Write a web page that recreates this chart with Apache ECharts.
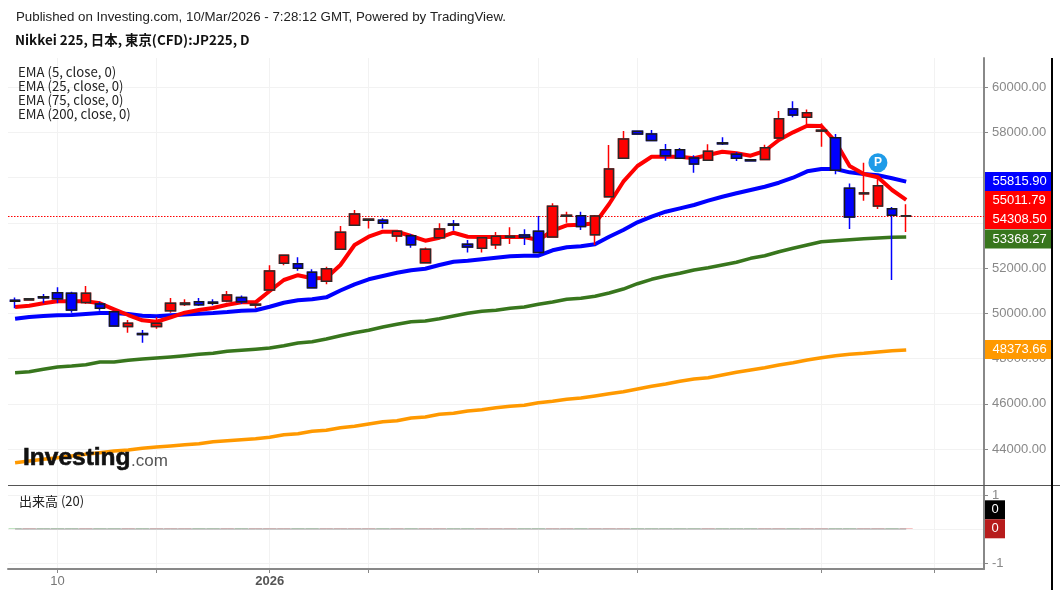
<!DOCTYPE html>
<html>
<head>
<meta charset="utf-8">
<title>Nikkei 225</title>
<script src="https://cdn.jsdelivr.net/npm/echarts@6/dist/echarts.min.js"></script>
<style>
html, body { margin: 0; padding: 0; background: #fff; }
#chart { width: 1060px; height: 596px; }
</style>
</head>
<body>
<div id="chart"></div>
<script>
// daily candles
const opens = [50570,50590,50730,50910,50880,50480,50410,50070,49420,49100,
  49420,50110,50390,50510,50490,50540,50700,50360,51030,52210,
  52190,51810,51410,52830,53890,54110,54110,53410,53430,52230,
  53340,53940,53050,52870,53030,53360,53460,53620,53370,54290,
  54310,53470,55150,56850,58040,57920,57230,57230,56860,56760,
  57530,57030,56780,56800,57750,59030,58660,58050,57760,55520,
  55280,54740,54620,54290];
const closes = [50530,50640,50680,50640,50140,50880,50220,49440,49560,49060,
  49560,50440,50450,50380,50440,50810,50510,50400,51870,52560,
  51990,51130,51970,53580,54390,54160,53980,53620,53030,52830,
  53720,53890,52930,53340,53400,53410,53360,52680,54730,54330,
  53830,54300,56380,57700,57920,57640,56960,56850,56600,57160,
  57490,56850,56740,57320,58600,58760,58860,58090,56320,54250,
  55320,55640,54330,54308.5];
const lows = [50220,50590,50440,50440,50020,50410,50110,49400,49140,48700,
  49320,50020,50320,50320,50350,50490,50410,50230,50950,52120,
  51880,51090,51280,52830,53860,53750,53750,53160,52900,52210,
  53310,53650,52680,52680,52840,53060,53020,52650,53340,54000,
  53680,53020,55120,56850,57920,57640,56740,56850,56210,56760,
  57440,56730,56740,56800,57750,58660,58250,57360,56140,53720,
  54970,54610,51470,53590];
const highs = [50700,50640,50850,51150,50950,51200,50510,50110,49700,49260,
  49820,50670,50620,50670,50620,50980,50790,50470,52120,52590,
  52470,51940,52060,53860,54560,54180,54200,53680,53500,52910,
  53980,54120,53240,53380,53590,53800,53710,54300,54860,54490,
  54490,54340,57440,58050,58040,58100,57480,57300,56980,57470,
  57780,57130,56780,57450,58940,59370,59010,58400,57920,55740,
  56650,56020,54700,54820];

// EMA lines
const ema5 = [50276,50333,50439,50527,50527,50527,50439,50174,49922,49688,
  49626,49820,50024,50143,50231,50377,50483,50483,50983,51469,
  51681,51544,51557,52132,53016,53383,53604,53604,53414,53206,
  53339,53560,53383,53370,53370,53370,53370,53237,53648,53887,
  53913,53975,54828,55814,56508,56919,56919,56919,56848,56994,
  57140,57069,56963,57171,57657,57997,58289,58276,57582,56508,
  56154,56009,55447,55011.79];
const ema25 = [49758,49834,49878,49909,49922,49966,50010,50010,49966,49891,
  49865,49909,49944,49980,50010,50054,50113,50130,50289,50466,
  50572,50616,50704,51005,51279,51500,51646,51792,51898,51968,
  52132,52278,52322,52384,52454,52516,52543,52543,52782,52914,
  52958,53052,53383,53679,54019,54267,54488,54638,54784,54975,
  55151,55301,55447,55593,55770,55991,56274,56375,56375,56229,
  56154,56097,55964,55815.90];
const ema75 = [47372,47416,47522,47624,47668,47726,47845,47845,47920,47977,
  48021,48066,48123,48185,48229,48317,48362,48406,48463,48565,
  48684,48743,48861,49007,49140,49246,49392,49511,49626,49657,
  49758,49878,49997,50085,50130,50218,50276,50395,50497,50616,
  50660,50749,50894,51071,51306,51500,51646,51765,51911,52013,
  52132,52252,52428,52543,52720,52870,53016,53162,53206,53251,
  53295,53330,53355,53368.27];
const ema200 = [43394,43469,43544,43615,43690,43765,43836,43911,43955,44030,
  44088,44132,44189,44234,44322,44366,44410,44455,44516,44631,
  44675,44781,44826,44941,45003,45104,45206,45251,45369,45414,
  45533,45577,45679,45736,45825,45887,45931,46046,46107,46196,
  46254,46342,46444,46532,46652,46771,46872,46992,47093,47151,
  47270,47389,47491,47593,47712,47814,47933,48035,48123,48185,
  48229,48287,48340,48373.66];

// volume pane is flat at zero in the picture
const volumes = opens.map(() => 0);

const priceTicks = [44000,46000,48000,50000,52000,54000,56000,58000,60000];
const volumeTicks = [-1,0,1];
const dateLabels = {3: '10', 18: '2026'};
const dateTicks = [3,10,18,25,37,44,57,65];
const slotCount = 69;
const categories = Array.from({length: slotCount}, (_, i) => dateLabels[i] || '');
const pivotMark = [61, 56654];

const UI_FONT = '"Liberation Sans", Arial, sans-serif';
const CJK_FONT = '"Noto Sans CJK JP", "Noto Sans", sans-serif';
const GRID_LINE = '#f2f2f2';
const AXIS_GRAY = '#888888';

const lineSeries = (name, data, color, width) => ({
  name, type: 'line', data, xAxisIndex: 0, yAxisIndex: 0,
  symbol: 'none', smooth: false, silent: true, z: 2,
  lineStyle: {color, width, cap: 'butt', join: 'round'}
});

// split lines of a band axis sit on the band edges, the date grid here sits on the candle centres
const dateGrid = axisIndex => ({
  name: 'date grid ' + axisIndex, type: 'line', data: [], silent: true, z: 1,
  xAxisIndex: axisIndex, yAxisIndex: axisIndex, symbol: 'none',
  markLine: {
    z: 0, silent: true, symbol: 'none', label: {show: false}, animation: false,
    lineStyle: {color: GRID_LINE, type: 'solid', width: 1},
    data: dateTicks.map(i => ({xAxis: i}))
  }
});

function text(x, y, str, font, color, align) {
  return {
    type: 'text', z: 100,
    style: {x, y, text: str, font, fill: color, textAlign: align || 'left', textVerticalAlign: 'middle'}
  };
}

function tag(top, str, bg, width) {
  const x = 985, h = 19;
  return [
    {type: 'rect', z: 100, shape: {x, y: top, width, height: h}, style: {fill: bg}},
    text(width > 30 ? 992.5 : x + width / 2, top + h / 2, str, '13px ' + UI_FONT, '#ffffff', width > 30 ? 'left' : 'center')
  ];
}

const last = arr => arr[arr.length - 1].toFixed(2);

// logo word is heavier than plain bold
const logoWord = text(23, 458, 'Investing', 'bold 24.5px ' + UI_FONT, '#111111');
logoWord.style.stroke = '#111111';
logoWord.style.lineWidth = 0.6;

const chart = echarts.init(document.getElementById('chart'));
const option = {
  animation: false,
  backgroundColor: '#ffffff',
  grid: [
    {left: 8, right: 76, top: 58, height: 427},
    {left: 8, right: 76, top: 486, height: 83}
  ],
  xAxis: [
    {
      type: 'category', gridIndex: 0, data: categories, boundaryGap: true,
      axisLine: {show: false}, axisTick: {show: false}, axisLabel: {show: false},
      splitLine: {show: false}
    },
    {
      type: 'category', gridIndex: 1, data: categories, boundaryGap: true,
      axisLine: {onZero: false, lineStyle: {color: AXIS_GRAY, width: 2}},
      axisTick: {show: true, alignWithLabel: true, length: 4, interval: i => dateTicks.includes(i), lineStyle: {color: AXIS_GRAY}},
      axisLabel: {
        interval: i => dateLabels[i] !== undefined, margin: 6, color: '#777777', fontSize: 13, fontFamily: UI_FONT,
        formatter: v => v === '2026' ? '{b|2026}' : v,
        rich: {b: {fontWeight: 'bold', color: '#555555', fontSize: 13, fontFamily: UI_FONT}}
      },
      splitLine: {show: false}
    }
  ],
  yAxis: [
    {
      type: 'value', gridIndex: 0, position: 'right', min: 42409, max: 61282, scale: true,
      axisLine: {show: true, onZero: false, lineStyle: {color: AXIS_GRAY, width: 2}},
      axisTick: {show: true, length: 4, customValues: priceTicks, lineStyle: {color: AXIS_GRAY}},
      axisLabel: {customValues: priceTicks, margin: 8, color: AXIS_GRAY, fontSize: 13, fontFamily: UI_FONT, formatter: v => v.toFixed(2)},
      splitLine: {show: true, lineStyle: {color: GRID_LINE, width: 1}}
    },
    {
      type: 'value', gridIndex: 1, position: 'right', min: -1.176, max: 1.265,
      axisLine: {show: true, onZero: false, lineStyle: {color: AXIS_GRAY, width: 2}},
      axisTick: {show: true, length: 4, customValues: volumeTicks, lineStyle: {color: AXIS_GRAY}},
      axisLabel: {customValues: volumeTicks, margin: 8, color: AXIS_GRAY, fontSize: 13, fontFamily: UI_FONT},
      splitLine: {show: true, lineStyle: {color: GRID_LINE, width: 1}}
    }
  ],
  series: [
    dateGrid(0),
    dateGrid(1),
    {
      name: 'last close', type: 'line', data: [], xAxisIndex: 0, yAxisIndex: 0, silent: true, z: 1, symbol: 'none',
      markLine: {
        z: 1, silent: true, symbol: 'none', label: {show: false},
        data: [{yAxis: closes[closes.length - 1], lineStyle: {color: '#ff0000', type: [1.5, 1.5], width: 1, opacity: 1}}]
      }
    },
    lineSeries('EMA 200', ema200, '#ff9900', 3.5),
    lineSeries('EMA 75', ema75, '#38761d', 3.5),
    lineSeries('EMA 25', ema25, '#0000ff', 4),
    lineSeries('EMA 5', ema5, '#ff0000', 4),
    {
      // wicks, coloured like the candle
      name: 'wicks', type: 'candlestick', xAxisIndex: 0, yAxisIndex: 0, z: 3, silent: true,
      barWidth: 10,
      data: opens.map((o, i) => [o, closes[i], lows[i], highs[i]]),
      itemStyle: {color: '#ff0000', color0: '#0000ff', borderColor: '#ff0000', borderColor0: '#0000ff', borderWidth: 1.5},
      markPoint: {
        silent: true, symbol: 'circle', symbolSize: 19,
        itemStyle: {color: '#1e9be8'},
        label: {show: true, color: '#ffffff', fontWeight: 'bold', fontSize: 12, fontFamily: UI_FONT, formatter: 'P'},
        data: [{coord: pivotMark}]
      }
    },
    {
      // bodies on top, dark outline only around the body
      name: 'bodies', type: 'candlestick', xAxisIndex: 0, yAxisIndex: 0, z: 4, silent: true,
      barWidth: 10,
      data: opens.map((o, i) => [o, closes[i], Math.min(o, closes[i]), Math.max(o, closes[i])]),
      itemStyle: {color: '#ff0000', color0: '#0000ff', borderColor: '#2a2a2a', borderColor0: '#1a1a1a', borderWidth: 1.5}
    },
    {
      name: 'volume', type: 'bar', xAxisIndex: 1, yAxisIndex: 1, silent: true,
      barWidth: 13, barMinHeight: 1,
      data: volumes.map((v, i) => ({
        value: v,
        itemStyle: {color: closes[i] >= opens[i] ? '#f6c3c3' : '#bfe3bf'}
      }))
    },
    {
      name: 'volume ma', type: 'line', xAxisIndex: 1, yAxisIndex: 1, silent: true, z: 3,
      data: volumes, symbol: 'none', lineStyle: {color: '#a0a0a0', width: 1}
    }
  ],
  graphic: {
    elements: [
      text(16, 17, 'Published on Investing.com, 10/Mar/2026 - 7:28:12 GMT, Powered by TradingView.', '13.3px ' + UI_FONT, '#222222'),
      text(15, 40, 'Nikkei 225, 日本, 東京(CFD):JP225, D', 'bold 13.4px ' + CJK_FONT, '#111111'),
      text(18, 72, 'EMA (5, close, 0)', '13.2px ' + CJK_FONT, '#222222'),
      text(18, 86, 'EMA (25, close, 0)', '13.2px ' + CJK_FONT, '#222222'),
      text(18, 100, 'EMA (75, close, 0)', '13.2px ' + CJK_FONT, '#222222'),
      text(18, 114, 'EMA (200, close, 0)', '13.2px ' + CJK_FONT, '#222222'),
      text(19, 501, '出来高 (20)', '13px ' + CJK_FONT, '#222222'),
      logoWord,
      text(131, 461, '.com', '17px ' + UI_FONT, '#555555'),
      {type: 'line', z: 100, shape: {x1: 8, y1: 485.5, x2: 1060, y2: 485.5}, style: {stroke: '#555555', lineWidth: 1}},
      {type: 'line', z: 101, shape: {x1: 1052, y1: 58, x2: 1052, y2: 590}, style: {stroke: '#000000', lineWidth: 2}},
      ...tag(172, last(ema25), '#0000ff', 67),
      ...tag(191, last(ema5), '#ff0000', 67),
      ...tag(210, last(closes), '#ff0000', 67),
      ...tag(229.5, last(ema75), '#38761d', 67),
      ...tag(340, last(ema200), '#ff9900', 67),
      ...tag(500.3, '0', '#000000', 20),
      ...tag(519.3, '0', '#b71c1c', 20)
    ]
  }
};
chart.setOption(option);
</script>
</body>
</html>
